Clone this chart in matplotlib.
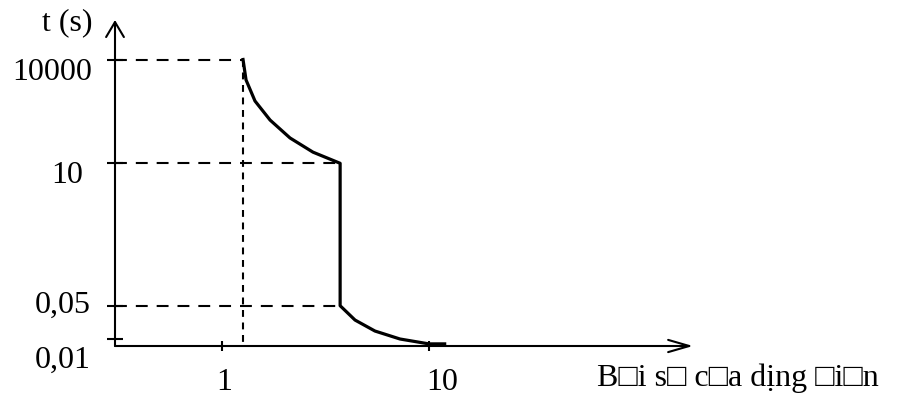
import numpy as np
import matplotlib
matplotlib.use('Agg')
import matplotlib.pyplot as plt
from matplotlib.ticker import NullLocator

# data: multiple of current -> trip time (s)
x_curve = [1.263, 1.306, 1.443, 1.706, 2.13, 2.75, 3.72, 3.72, 4.39, 5.48, 7.24, 9.98, 11.9]
t_curve = [10000, 2570, 631, 178, 54, 21, 10, 0.05, 0.025, 0.0147, 0.01, 0.0079, 0.0079]

x_ticks = [1, 10]
x_labels = ['1', '10']
t_ticks = [10000, 10, 0.05, 0.01]
t_labels = ['10000', '10', '0,05', '0,01']

x_start = 1.263   # knee of the curve
x_jump = 3.72     # vertical drop
ylabel = 't (s)'
xlabel = 'B\u25a1i s\u25a1 c\u25a1a dịng \u25a1i\u25a1n'

plt.rcParams['font.family'] = ['Liberation Serif', 'DejaVu Serif']
plt.rcParams['font.size'] = 23

# schematic t-axis: piecewise linear in log10(t)
LOGK = [-4, -2, -1.301, 1, 4, 7]
POSK = [-88.2, 7, 40.3, 182.7, 286.5, 390.3]


def fwd(t):
    t = np.clip(np.asarray(t, dtype=float), 1e-12, None)
    return np.interp(np.log10(t), LOGK, POSK)


def inv(p):
    return 10 ** np.interp(p, POSK, LOGK)


fig = plt.figure(figsize=(9.18, 4.07), dpi=100)
ax = fig.add_axes([115 / 918, 61 / 407, 578 / 918, 326 / 407])
ax.set_xscale('log')
ax.set_yscale('function', functions=(fwd, inv))
ax.set_xlim(0.304, 188.5)
ax.set_ylim(inv(0), inv(326))
for s in ax.spines.values():
    s.set_visible(False)

# axes with arrow heads
ax.annotate('', xy=(0, 1), xytext=(0, 0), xycoords='axes fraction',
            arrowprops=dict(arrowstyle='->,head_length=0.54,head_width=0.32', lw=1.5,
                            color='black', shrinkA=0, shrinkB=0, mutation_scale=20))
ax.annotate('', xy=(1, 0), xytext=(0, 0), xycoords='axes fraction',
            arrowprops=dict(arrowstyle='->,head_length=0.76,head_width=0.22', lw=1.5,
                            color='black', shrinkA=0, shrinkB=0, mutation_scale=20))

# ticks
ax.set_xticks(x_ticks)
ax.set_xticklabels([])
ax.set_yticks(t_ticks)
ax.set_yticklabels([])
ax.xaxis.set_minor_locator(NullLocator())
ax.yaxis.set_minor_locator(NullLocator())
ax.tick_params(axis='y', direction='inout', length=11, width=1.5)
ax.tick_params(axis='x', direction='inout', length=7, width=1.5)

# tick labels placed by hand (offsets in px)
t_off = [(-62.5, -20.5), (-47.5, -19.7), (-52, -7.3), (-52, -29)]
for v, lab, (dx, dy) in zip(t_ticks, t_labels, t_off):
    ax.annotate(lab, xy=(0, v), xycoords=('axes fraction', 'data'),
                xytext=(dx * 0.72, dy * 0.72), textcoords='offset points',
                ha='center', va='baseline')
x_off = [(2, -44), (13, -44)]
for v, lab, (dx, dy) in zip(x_ticks, x_labels, x_off):
    ax.annotate(lab, xy=(v, 0), xycoords=('data', 'axes fraction'),
                xytext=(dx * 0.72, dy * 0.72), textcoords='offset points',
                ha='center', va='baseline')

ax.annotate(ylabel, xy=(0, 1), xycoords='axes fraction',
            xytext=(-48 * 0.72, -10 * 0.72), textcoords='offset points',
            ha='center', va='baseline')
ax.annotate(xlabel, xy=(1, 0), xycoords='axes fraction',
            xytext=(-96 * 0.72, -40 * 0.72), textcoords='offset points',
            ha='left', va='baseline')

# dashed guide lines
xl = ax.get_xlim()
ax.plot([xl[0], x_start], [t_ticks[0]] * 2, color='black', lw=1.5, ls=(0, (5.7, 4.3)))
ax.plot([xl[0], x_jump], [t_ticks[1]] * 2, color='black', lw=1.5, ls=(0, (5.7, 4.3)))
ax.plot([xl[0], x_jump], [t_ticks[2]] * 2, color='black', lw=1.5, ls=(0, (5.7, 4.3)))
ax.plot([x_start, x_start], [t_ticks[0], ax.get_ylim()[0]], color='black', lw=1.5,
        ls=(0, (3.3, 2.7)))

# trip curve
ax.plot(x_curve, t_curve, color='black', lw=2.3, solid_joinstyle='round')

fig.savefig('out.png', dpi=100)
